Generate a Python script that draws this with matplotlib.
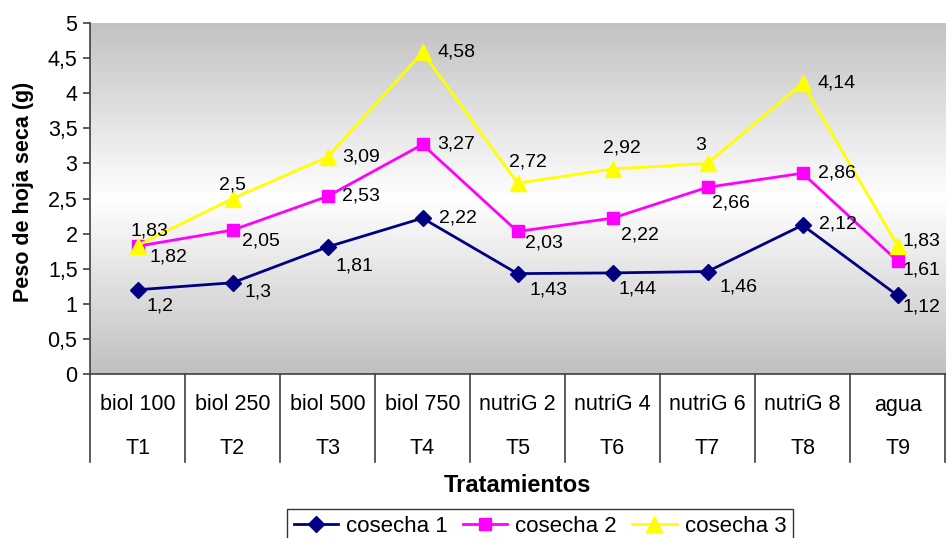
import numpy as np
import matplotlib
matplotlib.use("Agg")
import matplotlib.pyplot as plt
from matplotlib.colors import LinearSegmentedColormap
from matplotlib.transforms import blended_transform_factory
from matplotlib.lines import Line2D

plt.rcParams['font.family'] = ['Liberation Sans', 'DejaVu Sans']

# Data
tratamientos = ["biol 100", "biol 250", "biol 500", "biol 750", "nutriG 2",
                "nutriG 4", "nutriG 6", "nutriG 8", "agua"]
codigos = ["T1", "T2", "T3", "T4", "T5", "T6", "T7", "T8", "T9"]
cosecha_1 = [1.2, 1.3, 1.81, 2.22, 1.43, 1.44, 1.46, 2.12, 1.12]
cosecha_2 = [1.82, 2.05, 2.53, 3.27, 2.03, 2.22, 2.66, 2.86, 1.61]
cosecha_3 = [1.83, 2.5, 3.09, 4.58, 2.72, 2.92, 3, 4.14, 1.83]
series_names = ["cosecha 1", "cosecha 2", "cosecha 3"]

# Label offsets in pixels (dx right, dy down) for each series
offs_1 = [(22, 16), (26, 9), (27, 19), (35, 0), (31, 16), (25, 16), (31, 15), (35, -1), (24, 12)]
offs_2 = [(31, 11), (28, 11), (33, 0), (34, 0), (26, 12), (27, 17), (23, 16), (34, 0), (24, 9)]
offs_3 = [(12, -15), (0, -14), (34, 0), (34, 0), (10, -21), (9, -21), (-7, -18), (34, 0), (24, -5)]

W, H = 946, 538
fig = plt.figure(figsize=(W / 100, H / 100), dpi=100)
L, R, T, B = 90, 945, 23, 374
ax = fig.add_axes([L / W, 1 - B / H, (R - L) / W, (B - T) / H])

n = len(tratamientos)
x = np.arange(n)
ax.set_xlim(-0.5, n - 0.5)
ax.set_ylim(0, 5)

# Gray-white-gray vertical gradient background
cmap = LinearSegmentedColormap.from_list("bg", ["#c0c0c0", "#ffffff", "#c2c2c2"])
grad = np.linspace(0, 1, 256).reshape(-1, 1)
ax.imshow(grad, cmap=cmap, aspect='auto', extent=(-0.5, n - 0.5, 5, 0),
          zorder=0, interpolation='bicubic')
ax.set_ylim(0, 5)

styles = [
    dict(color="#000080", marker="D", markersize=8.5),
    dict(color="#ff00ff", marker="s", markersize=9),
    dict(color="#ffff00", marker="^", markersize=11),
]
all_series = [cosecha_1, cosecha_2, cosecha_3]
all_offs = [offs_1, offs_2, offs_3]
handles = []
for vals, st, name in zip(all_series, styles, series_names):
    h, = ax.plot(x, vals, color=st["color"], lw=2, marker=st["marker"],
                 markersize=st["markersize"], markerfacecolor=st["color"],
                 markeredgecolor=st["color"], label=name, zorder=3)
    handles.append(h)

for vals, offs in zip(all_series, all_offs):
    for xi, v, (dx, dy) in zip(x, vals, offs):
        ax.annotate(f"{v:g}".replace(".", ","), (xi, v), xytext=(dx, -dy),
                    textcoords="offset pixels", ha="center", va="center",
                    fontsize=14, color="black", zorder=4)

# Axes styling
for s in ["top", "right"]:
    ax.spines[s].set_visible(False)
ax.spines["left"].set_color("#404040")
ax.spines["bottom"].set_color("#404040")
ax.spines["left"].set_linewidth(1.2)
ax.spines["bottom"].set_linewidth(1.2)
ax.set_yticks(np.arange(0, 5.01, 0.5))
ax.set_yticklabels([f"{t:g}".replace(".", ",") for t in np.arange(0, 5.01, 0.5)],
                   fontsize=15.5)
ax.tick_params(axis="y", direction="out", length=5, width=1.2, color="#404040", pad=4)
ax.set_xticks([])

# Two-level category labels with separators
tr = blended_transform_factory(ax.transData, fig.transFigure)
for xi, t1, t2 in zip(x, tratamientos, codigos):
    ax.text(xi, 1 - 405 / H, t1, transform=tr, ha="center", va="center", fontsize=15.5)
    ax.text(xi, 1 - 448 / H, t2, transform=tr, ha="center", va="center", fontsize=15.5)
for xs in np.arange(-0.5, n, 1.0):
    ax.add_line(Line2D([xs, xs], [1 - B / H, 1 - 462 / H], transform=tr,
                       color="#404040", lw=1.2, clip_on=False))

fig.text(517 / W, 1 - 485 / H, "Tratamientos", ha="center", va="center",
         fontsize=17, fontweight="bold")
fig.text(24 / W, 1 - 192 / H, "Peso de hoja seca (g)", ha="center", va="center",
         rotation=90, fontsize=15.5, fontweight="bold")

leg = fig.legend(handles=handles, loc="upper left",
                 bbox_to_anchor=(287 / W, 1 - 509 / H), borderaxespad=0,
                 ncol=3, fontsize=16, frameon=True, fancybox=False,
                 handlelength=2.0, handletextpad=0.36, columnspacing=0.68,
                 borderpad=0.3)
leg.get_frame().set_edgecolor("black")
leg.get_frame().set_linewidth(1)

fig.savefig("out.png", dpi=100)
